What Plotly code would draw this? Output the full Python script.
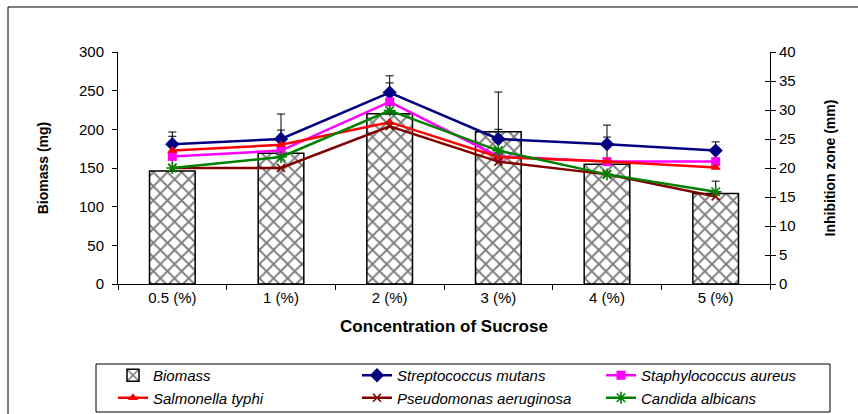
import plotly.graph_objects as go

# Sucrose concentration levels
categories = ["0.5 (%)", "1 (%)", "2 (%)", "3 (%)", "4 (%)", "5 (%)"]

# Biomass (mg), left axis
biomass = [146, 169, 220, 197, 155, 117]
biomass_err = [45, 30, 40, 3, 35, 16]

# Inhibition zones (mm), right axis
strep_mutans = [24.1, 25.0, 33.0, 25.0, 24.1, 23.0]
strep_mutans_err = [2.1, 4.3, 2.9, 8.1, 3.3, 1.5]
staph_aureus = [22.0, 23.0, 31.4, 22.0, 21.1, 21.1]
salmonella_typhi = [23.0, 24.0, 27.9, 21.9, 21.1, 20.1]
pseudomonas = [20.0, 20.0, 27.2, 21.1, 18.9, 15.1]
candida = [20.0, 21.9, 29.9, 23.0, 18.9, 15.9]

FONT = "Arial, 'Liberation Sans', sans-serif"
PLOT_W, PLOT_H = 652, 232  # plot area in px


def px_x(px):
    """Horizontal pixel offset from the plot's left edge -> paper coords."""
    return px / PLOT_W


def px_y(px):
    """Vertical pixel offset below the plot's bottom edge -> paper coords."""
    return -px / PLOT_H


fig = go.Figure()

fig.add_trace(go.Bar(
    x=categories, y=biomass, name="Biomass",
    marker=dict(color="white", line=dict(color="black", width=1.5),
                pattern=dict(shape="x", size=10, solidity=0.35,
                             fgcolor="black", bgcolor="white")),
    width=0.42,
    error_y=dict(type="data", array=biomass_err, symmetric=False,
                 arrayminus=[0] * 6, color="black", thickness=1, width=4),
    yaxis="y",
))

series = [
    ("Streptococcus mutans", strep_mutans, "#000080", "diamond", 11, 0),
    ("Staphylococcus aureus", staph_aureus, "#FF00FF", "square", 9, 0),
    ("Salmonella typhi", salmonella_typhi, "#FF0000", "triangle-up", 9, 0),
    ("Pseudomonas aeruginosa", pseudomonas, "#800000", "x-thin-open", 8, 1.6),
    ("Candida albicans", candida, "#008000", "asterisk-open", 10, 1.6),
]
for name, vals, color, sym, size, mlw in series:
    err = None
    if name == "Streptococcus mutans":
        err = dict(type="data", array=strep_mutans_err, symmetric=False,
                   arrayminus=[0] * 6, color="black", thickness=1, width=4)
    fig.add_trace(go.Scatter(
        x=categories, y=vals, name=name, mode="lines+markers",
        line=dict(color=color, width=2.5),
        marker=dict(symbol=sym, size=size, color=color,
                    line=dict(color=color, width=mlw)),
        error_y=err,
        yaxis="y2",
    ))

# helper trace so the inner right-axis ticks are rendered
fig.add_trace(go.Scatter(x=categories, y=[None] * 6, yaxis="y3",
                         showlegend=False, hoverinfo="skip"))

fig.update_layout(
    width=858, height=414,
    margin=dict(l=118, r=88, t=52, b=130, autoexpand=False),
    paper_bgcolor="white", plot_bgcolor="white",
    font=dict(family=FONT, color="black", size=15),
    xaxis=dict(
        showline=True, linecolor="black", linewidth=1,
        ticks="outside", ticklen=5, tickcolor="black",
        tickson="boundaries", showgrid=False,
        tickfont=dict(size=15),
        title=dict(text="<b>Concentration of Sucrose</b>",
                   font=dict(size=17), standoff=15),
    ),
    yaxis=dict(
        range=[0, 300], dtick=50, showline=True, linecolor="black",
        ticks="outside", ticklen=5, tickcolor="black", showgrid=False,
        zeroline=False, tickfont=dict(size=15), ticklabelstandoff=5,
        title=dict(text="<b>Biomass (mg)</b>", font=dict(size=14),
                   standoff=27),
    ),
    yaxis2=dict(
        range=[0, 40], dtick=5, overlaying="y", side="right",
        showline=True, linecolor="black", ticks="outside", ticklen=5,
        tickcolor="black", showgrid=False, zeroline=False,
        tickfont=dict(size=15),
        title=dict(text="<b>Inhibition zone (mm)</b>", font=dict(size=14),
                   standoff=30),
    ),
    yaxis3=dict(
        range=[0, 40], dtick=5, overlaying="y", side="right",
        ticks="inside", ticklen=5, tickcolor="black", showgrid=False,
        zeroline=False, showticklabels=False, showline=False,
    ),
    legend=dict(
        orientation="h", x=px_x(-5), xanchor="left", y=px_y(75),
        yanchor="top", borderwidth=0, entrywidth=199,
        entrywidthmode="pixels", bgcolor="rgba(0,0,0,0)",
        font=dict(size=15, style="italic"),
    ),
    shapes=[
        # outer frame
        dict(type="rect", xref="paper", yref="paper",
             x0=px_x(-110), x1=1 + px_x(200), y0=px_y(250),
             y1=1 + 45 / PLOT_H, line=dict(color="black", width=1)),
        # legend frame
        dict(type="rect", xref="paper", yref="paper",
             x0=px_x(-22), x1=px_x(712), y0=px_y(128), y1=px_y(80),
             line=dict(color="black", width=1)),
    ],
)

fig.write_html("out.html")
